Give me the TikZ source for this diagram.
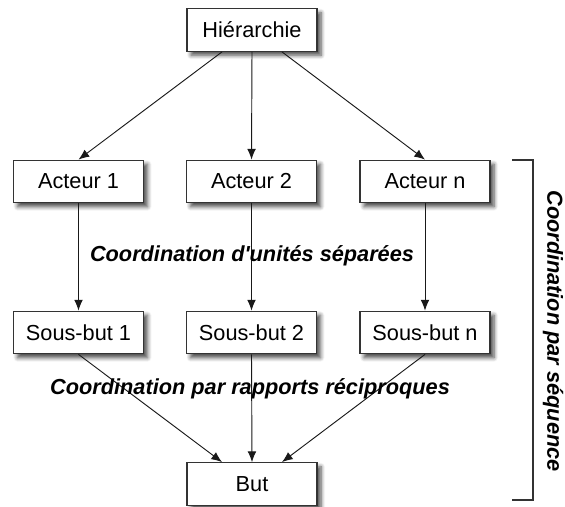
\documentclass[tikz,border=0pt]{standalone}
\usepackage{fontspec}
\setmainfont{Liberation Sans}
\usepackage{tikz}
\usetikzlibrary{arrows,arrows.meta,shapes,positioning,shadows.blur}

\tikzset{
  boite/.style={draw=black!80, line width=0.85pt, fill=white, minimum width=97.5pt,
    minimum height=32pt, inner sep=0pt, font=\fontsize{16.3}{19}\selectfont,
    blur shadow={shadow xshift=3pt, shadow yshift=-3pt, shadow blur steps=6,
      shadow blur radius=3pt, shadow opacity=70}},
  fleche/.style={->, >={Latex[length=8pt,width=6.5pt]}, draw=black!90, line width=0.7pt},
  titre/.style={font=\fontsize{16.3}{19}\selectfont\bfseries\itshape}
}

\begin{document}
\begin{tikzpicture}[x=0.75pt, y=-0.75pt]
        \useasboundingbox (0,0) rectangle (565,507);

        \node[boite] (hier) at (252,30) {Hiérarchie};

        \node[boite] (a1) at (78.5,181.5) {Acteur 1};
        \node[boite] (a2) at (251.5,181.5) {Acteur 2};
        \node[boite] (an) at (425,181.5) {Acteur n};

        \node[boite] (s1) at (78.5,332.5) {Sous-but 1};
        \node[boite] (s2) at (251.5,332.5) {Sous-but 2};
        \node[boite] (sn) at (425,332.5) {Sous-but n};

        \node[boite] (but) at (252,484) {But};

        \draw[fleche] ([xshift=-22.5pt]hier.south) -- (a1.north);
        \draw[fleche] (hier.south) -- (a2.north);
        \draw[fleche] ([xshift=22.5pt]hier.south) -- (an.north);

        \draw[fleche] (a1) -- (s1);
        \draw[fleche] (a2) -- (s2);
        \draw[fleche] (an) -- (sn);

        \draw[fleche] (s1.south) -- ([xshift=-22.5pt]but.north);
        \draw[fleche] (s2.south) -- (but.north);
        \draw[fleche] (sn.south) -- ([xshift=22.5pt]but.north);

        \node[titre] (unites) at (252,256) {Coordination d\textquotesingle unités séparées};
        \node[titre] (rapports) at (250,389) {Coordination par rapports réciproques};

        \draw[black!80, line width=0.85pt] (512,160) -- (533,160) -- (533,500) -- (512,500);
        \node[titre, rotate=-90] (sequence) at (553,331) {Coordination par séquence};

    \end{tikzpicture}
\end{document}
